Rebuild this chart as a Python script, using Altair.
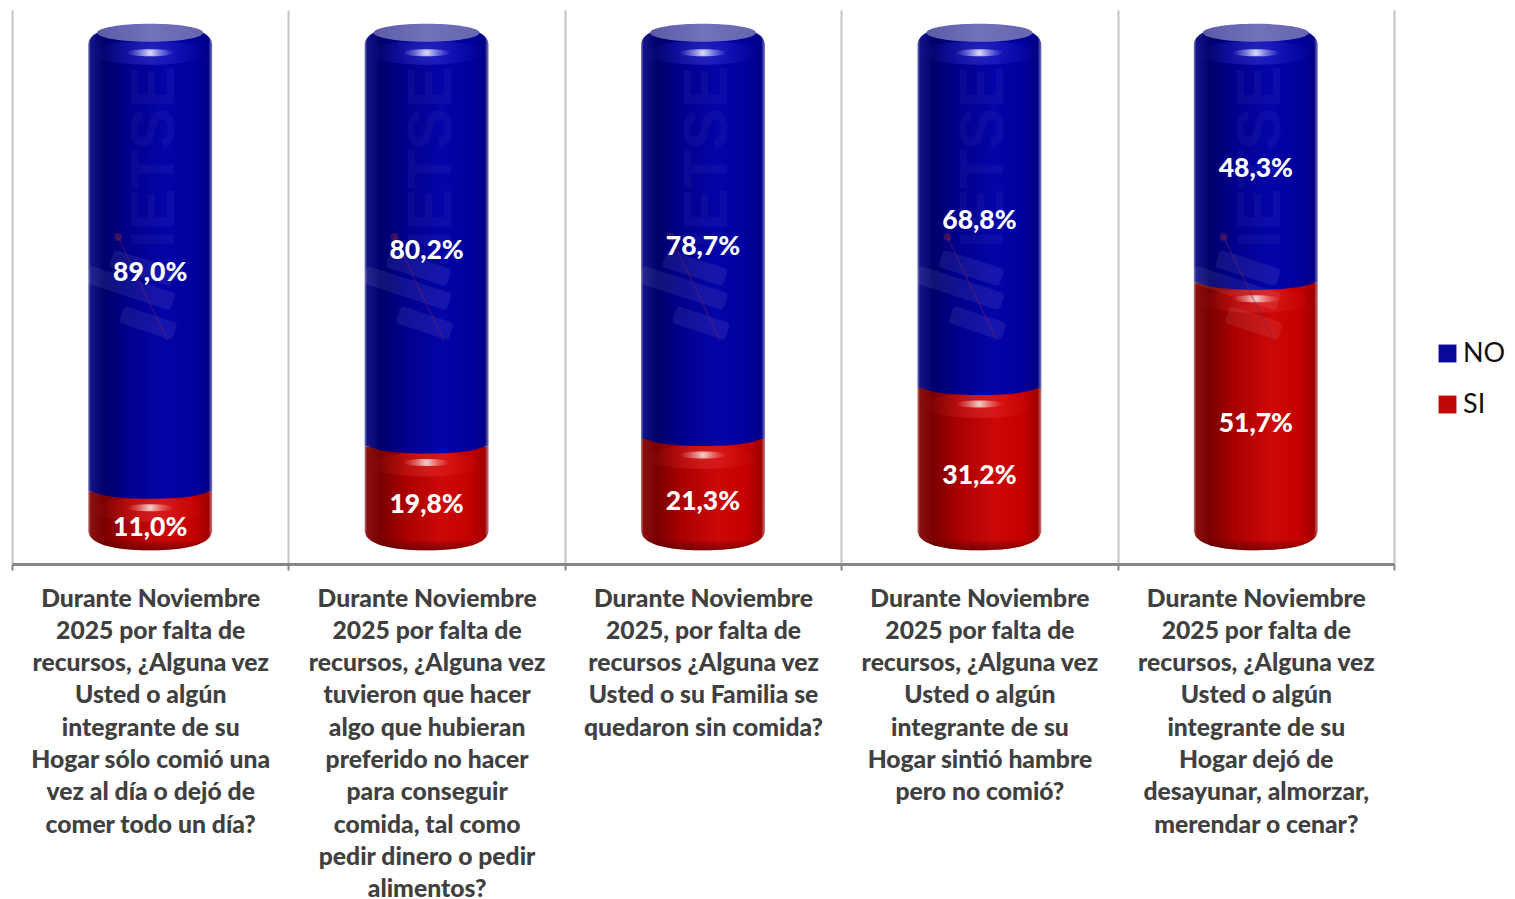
import altair as alt
import pandas as pd

categories = [
    "Durante Noviembre|2025 por falta de|recursos, ¿Alguna vez|Usted o algún|integrante de su|Hogar sólo comió una|vez al día o dejó de|comer todo un día?",
    "Durante Noviembre|2025 por falta de|recursos, ¿Alguna vez|tuvieron que hacer|algo que hubieran|preferido no hacer|para conseguir|comida, tal como|pedir dinero o pedir|alimentos?",
    "Durante Noviembre|2025, por falta de|recursos ¿Alguna vez|Usted o su Familia se|quedaron sin comida?",
    "Durante Noviembre|2025 por falta de|recursos, ¿Alguna vez|Usted o algún|integrante de su|Hogar sintió hambre|pero no comió?",
    "Durante Noviembre|2025 por falta de|recursos, ¿Alguna vez|Usted o algún|integrante de su|Hogar dejó de|desayunar, almorzar,|merendar o cenar?",
]
si_values = [11.0, 19.8, 21.3, 31.2, 51.7]
no_values = [89.0, 80.2, 78.7, 68.8, 48.3]


def fmt(v):
    return f"{v:.1f}".replace(".", ",") + "%"


df_si = pd.DataFrame({"cat": categories, "serie": "SI", "start": 0.0, "end": si_values,
                      "mid": [v / 2 for v in si_values], "label": [fmt(v) for v in si_values]})
df_no = pd.DataFrame({"cat": categories, "serie": "NO", "start": si_values,
                      "end": [s + n for s, n in zip(si_values, no_values)],
                      "label": [fmt(v) for v in no_values]})
df_no["mid"] = (df_no["start"] + df_no["end"]) / 2
df_all = pd.concat([df_no, df_si])

FONT = "Lato"
WEIGHT = 900
BW = 124
x = alt.X(
    "cat:N", sort=None, title=None,
    scale=alt.Scale(paddingInner=0, paddingOuter=0),
    axis=alt.Axis(
        labelExpr="datum.value ? split(datum.value, '|') : ''", labelAngle=0, labelFont=FONT, labelFontWeight=WEIGHT,
        labelFontSize=24.7, labelColor="#404040", labelLineHeight=32.3, labelLimit=400, labelPadding=16,
        labelBaseline="top", tickBand="extent", tickSize=6, tickWidth=2, tickColor="#868686",
        domainColor="#868686", domainWidth=3, grid=True, gridColor="#c4c4c4", gridWidth=2,
    ),
)
yscale = alt.Scale(domain=[-3.06, 104.83], nice=False, zero=False)


def y(field):
    return alt.Y(f"{field}:Q", scale=yscale, axis=None, title=None)


def horiz(stops):
    return alt.Gradient(gradient="linear", x1=0, x2=1, y1=0, y2=0,
                        stops=[alt.GradientStop(offset=o, color=c) for o, c in stops])


def vert(stops):
    return alt.Gradient(gradient="linear", x1=0, x2=0, y1=0, y2=1,
                        stops=[alt.GradientStop(offset=o, color=c) for o, c in stops])


def radial(stops):
    return alt.RadialGradient(gradient="radial", stops=[alt.GradientStop(offset=o, color=c) for o, c in stops])


BLUE = horiz([(0, "#8080c0"), (0.02, "#14148a"), (0.13, "#00006a"), (0.32, "#00008c"), (0.62, "#0404a8"),
              (0.85, "#00009c"), (0.97, "#000088"), (1, "#8080c0")])
RED = horiz([(0, "#c08080"), (0.02, "#8a1010"), (0.13, "#7a0000"), (0.32, "#a80000"), (0.62, "#cc0808"),
             (0.85, "#c40000"), (0.97, "#a00000"), (1, "#c88080")])

P_TOP = "M-62,0 C-62,-13 -42,-21 0,-21 C42,-21 62,-13 62,0 Z"
P_BOTTOM = "M-62,-8 C-62,5 -40,12 0,12 C40,12 62,5 62,-8 Z"
P_FRONT = "M-62,-5 C-62,2 -40,7 0,7 C40,7 62,2 62,-5 Z"


def ell(rx, ry):
    return f"M{-rx},0 A{rx},{ry} 0 1,1 {rx},0 A{rx},{ry} 0 1,1 {-rx},0 Z"


def slab(cx, cy, half, thick=5):
    ux, uy = 0.95, 0.31
    nx, ny = -uy, ux
    pts = [(cx + s * half * ux + t * thick * nx, cy + s * half * uy + t * thick * ny)
           for s, t in [(-1, -1), (1, -1), (1, 1), (-1, 1)]]
    return "M" + " L".join(f"{a:.1f},{b:.1f}" for a, b in pts) + " Z"


P_WATER = " ".join([slab(-8, -2, 28), slab(-20, 18, 41), slab(-2, 53, 24)])
P_NEEDLE = "M-32,-33 L17,70"


def shape(data, field, path, fill, off=0, opacity=1):
    return alt.Chart(data).mark_point(shape=path, size=4, filled=True, fill=fill, opacity=opacity,
                                      strokeWidth=0, yOffset=off).encode(x=x, y=y(field))


legend_layer = alt.Chart(df_all).mark_bar(size=BW - 4).encode(
    x=x, y=y("mid"), y2="mid:Q",
    color=alt.Color("serie:N", title=None,
                    scale=alt.Scale(domain=["NO", "SI"], range=["#0a0a9a", "#c00808"]),
                    legend=alt.Legend(orient="none", legendX=1422, legendY=330, padding=0, symbolType="square",
                                      symbolSize=320, symbolStrokeWidth=0, labelFont=FONT, labelFontSize=27,
                                      labelColor="#111111", rowPadding=23, labelOffset=2)),
)

layers = [
    legend_layer,
    alt.Chart(df_si).mark_bar(size=BW, fill=RED, y2Offset=-17).encode(x=x, y=y("end"), y2="start:Q"),
    shape(df_si, "start", P_BOTTOM, RED, -10),
    shape(df_si, "start", P_BOTTOM, vert([(0, "rgba(60,0,0,0)"), (0.45, "rgba(60,0,0,0)"), (1, "rgba(60,0,0,0.55)")]), -10),
    shape(df_si, "end", ell(58, 12), radial([(0, "rgba(255,90,90,0.28)"), (1, "rgba(255,60,60,0)")]), 18),
    alt.Chart(df_no).mark_bar(size=BW, fill=BLUE, yOffset=10).encode(x=x, y=y("end"), y2="start:Q"),
    shape(df_no, "start", P_FRONT, BLUE),
    shape(df_no, "end", P_TOP, BLUE, 10.5),
    shape(df_no, "end", ell(53, 9), horiz([(0, "#5a5aa8"), (0.5, "#7272ba"), (1, "#6666b0")]), -2),
    shape(df_no, "end", ell(58, 12), radial([(0, "rgba(110,110,255,0.32)"), (1, "rgba(60,60,255,0)")]), 18),
    shape(df_no, "end", ell(24, 3.5), radial([(0, "rgba(255,255,255,0.85)"), (0.5, "rgba(220,220,255,0.4)"), (1, "rgba(200,200,255,0)")]), 18),
    shape(df_si, "end", ell(24, 3.5), radial([(0, "rgba(255,255,255,0.8)"), (0.5, "rgba(255,190,190,0.4)"), (1, "rgba(255,160,160,0)")]), 16),
    # watermark
    alt.Chart(df_si).mark_text(text="IETSE", font="Liberation Sans", fontWeight="bold", fontSize=63, angle=270,
                               color="white", opacity=0.035, xOffset=5, baseline="middle", align="center").encode(
        x=x, y=alt.value(147)),
    alt.Chart(df_si).mark_point(shape=P_WATER, size=4, filled=True, fill="white", stroke="white", strokeWidth=8,
                                strokeJoin="round", opacity=0.07).encode(x=x, y=alt.value(260)),
    alt.Chart(df_si).mark_point(shape=P_NEEDLE, size=4, filled=False, stroke="#7a2050", strokeWidth=1.3,
                                opacity=0.45).encode(x=x, y=alt.value(260)),
    alt.Chart(df_si).mark_point(shape=ell(4, 4), size=4, filled=True, fill="#7a2050", strokeWidth=0,
                                opacity=0.5, xOffset=-32).encode(x=x, y=alt.value(227)),
    # value labels
    alt.Chart(df_no).mark_text(font=FONT, fontWeight=WEIGHT, fontSize=26.5, color="white", dy=10).encode(
        x=x, y=y("mid"), text="label:N"),
    alt.Chart(df_si).mark_text(font=FONT, fontWeight=WEIGHT, fontSize=26.5, color="white", dy=8).encode(
        x=x, y=y("mid"), text="label:N"),
]

chart = (
    alt.layer(*layers)
    .properties(width=1382, height=554, background="white",
                padding={"left": 3, "top": 2, "right": 0, "bottom": 0})
    .configure_view(stroke=None)
)
chart.save("out.html", embed_options={"renderer": "svg", "actions": False})
